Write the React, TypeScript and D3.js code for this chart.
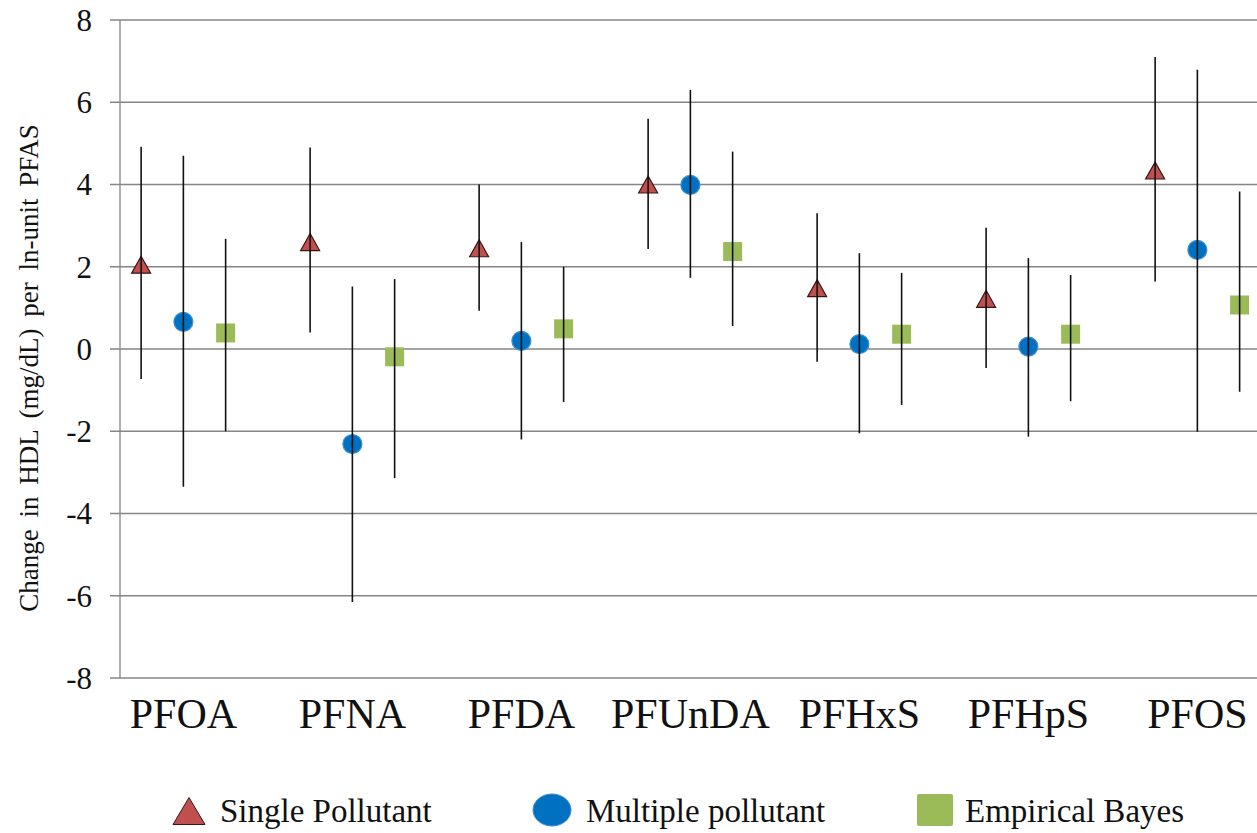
import React from 'react';
import * as d3 from 'd3';

// categories on the x axis
const categories = ['PFOA', 'PFNA', 'PFDA', 'PFUnDA', 'PFHxS', 'PFHpS', 'PFOS'];

// single pollutant model (estimate, lower, upper)
const single = [2.05, 2.6, 2.45, 4.0, 1.48, 1.22, 4.34];
const singleLo = [-0.73, 0.4, 0.93, 2.43, -0.31, -0.46, 1.64];
const singleHi = [4.92, 4.9, 4.0, 5.6, 3.3, 2.95, 7.1];

// multiple pollutant model
const multiple = [0.66, -2.31, 0.2, 3.99, 0.12, 0.06, 2.41];
const multipleLo = [-3.35, -6.15, -2.2, 1.73, -2.05, -2.13, -2.01];
const multipleHi = [4.7, 1.52, 2.6, 6.3, 2.33, 2.21, 6.79];

// empirical bayes
const bayes = [0.39, -0.19, 0.49, 2.37, 0.36, 0.36, 1.07];
const bayesLo = [-2.0, -3.14, -1.29, 0.56, -1.36, -1.27, -1.04];
const bayesHi = [2.68, 1.7, 2.0, 4.8, 1.85, 1.8, 3.83];

const yTicks = [-8, -6, -4, -2, 0, 2, 4, 6, 8];

const seriesNames = ['Single Pollutant', 'Multiple pollutant', 'Empirical Bayes'];

const width = 1257;
const height = 833;
const font = "'Liberation Serif', Tinos, 'Times New Roman', Times, serif";

const RED = '#C0504D';
const BLUE = '#0070C0';
const GREEN = '#9BBB59';

export default function App() {
  const x = d3.scaleLinear().domain([0, 7]).range([120, 1303]);
  const y = d3.scaleLinear().domain([-8, 8]).range([678, 20]);

  // offset of each series inside its category
  const offsets = [0.125, 0.375, 0.625];

  const series = [
    { vals: single, lo: singleLo, hi: singleHi },
    { vals: multiple, lo: multipleLo, hi: multipleHi },
    { vals: bayes, lo: bayesLo, hi: bayesHi },
  ];

  const tri = (cx: number, cy: number, w: number, h: number) =>
    `M${cx},${cy - h / 2}L${cx + w / 2},${cy + h / 2}L${cx - w / 2},${cy + h / 2}Z`;

  const marker = (s: number, cx: number, cy: number, key: string) => {
    if (s === 0)
      return <path key={key} d={tri(cx, cy, 19, 17)} fill={RED} stroke="#3a1515" strokeWidth={1.2} />;
    if (s === 1)
      return <circle key={key} cx={cx} cy={cy} r={9.5} fill={BLUE} stroke="#3f8fd2" strokeWidth={1.2} />;
    return <rect key={key} x={cx - 9.5} y={cy - 9.5} width={19} height={19} fill={GREEN} />;
  };

  return (
    <svg
      width={width}
      height={height}
      style={{ position: 'absolute', left: 0, top: 0, background: 'white', fontFamily: font }}
    >
      {/* gridlines */}
      {yTicks.map((t) => (
        <g key={t}>
          <line x1={110} x2={width} y1={y(t)} y2={y(t)} stroke="#858585" strokeWidth={1.3} />
          <text x={92} y={y(t)} dy="0.35em" textAnchor="end" fontSize={31} fill="#111">
            {t}
          </text>
        </g>
      ))}
      <line x1={x(0)} x2={x(0)} y1={y(8)} y2={y(-8)} stroke="#858585" strokeWidth={1.3} />

      {/* markers */}
      {series.map((sr, s) =>
        sr.vals.map((v, i) => marker(s, x(i + offsets[s]), y(v), `m${s}-${i}`))
      )}

      {/* error bars on top */}
      {series.map((sr, s) =>
        sr.vals.map((v, i) => (
          <line
            key={`e${s}-${i}`}
            x1={x(i + offsets[s])}
            x2={x(i + offsets[s])}
            y1={y(sr.lo[i])}
            y2={y(sr.hi[i])}
            stroke="#111"
            strokeWidth={1.6}
          />
        ))
      )}

      {/* category labels */}
      {categories.map((c, i) => (
        <text key={c} x={x(i + 0.375)} y={728} textAnchor="middle" fontSize={42} fill="#111">
          {c}
        </text>
      ))}

      {/* y axis title */}
      <text
        transform={`translate(29,368) rotate(-90)`}
        textAnchor="middle"
        dominantBaseline="central"
        fontSize={27}
        wordSpacing={5}
        fill="#111"
      >
        Change in HDL (mg/dL) per ln-unit PFAS
      </text>

      {/* legend */}
      <g>
        <path d={tri(189, 811, 32, 27)} fill={RED} stroke="#3a1515" strokeWidth={1} />
        <text x={220} y={822} fontSize={33} fill="#111">{seriesNames[0]}</text>
        <ellipse cx={552} cy={810} rx={19} ry={16} fill={BLUE} stroke="#3f8fd2" strokeWidth={1} />
        <text x={586} y={822} fontSize={33} fill="#111">{seriesNames[1]}</text>
        <rect x={917} y={794} width={36} height={32} rx={2} fill={GREEN} />
        <text x={965} y={822} fontSize={33} fill="#111">{seriesNames[2]}</text>
      </g>
    </svg>
  );
}
